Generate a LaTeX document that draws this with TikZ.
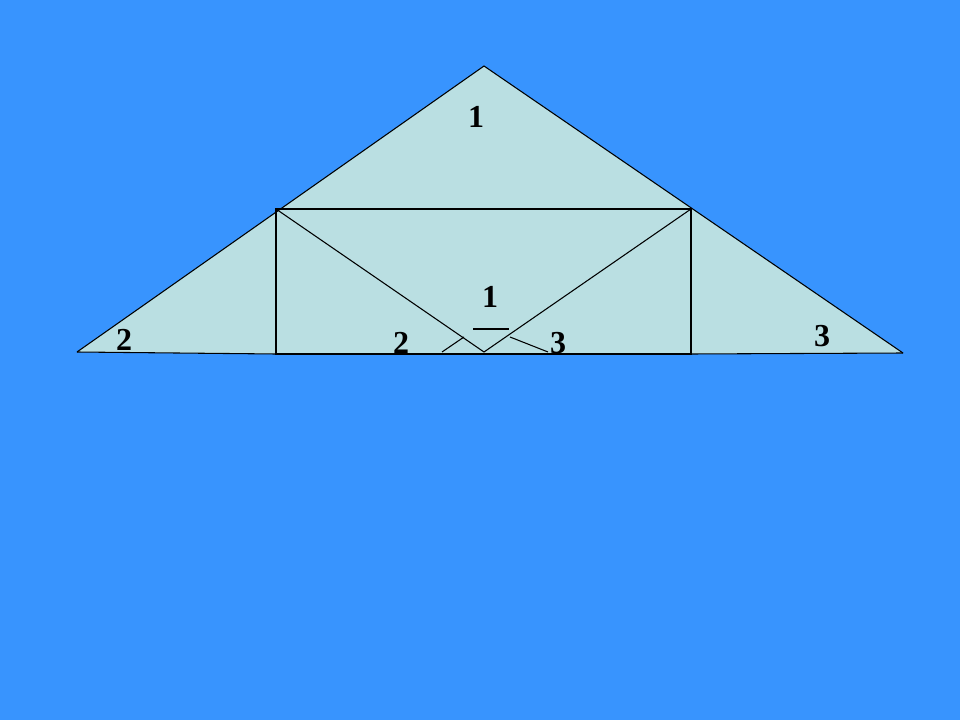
\documentclass[tikz,border=0pt]{standalone}
\usepackage{fontspec}
\setmainfont{Liberation Serif}
\definecolor{bg}{HTML}{3894FE}
\definecolor{fillc}{HTML}{BADFE2}
\begin{document}
\begin{tikzpicture}[x=0.75pt,y=-0.75pt,
  edge/.style={draw=black,line width=0.8pt},
  lbl/.style={font=\fontsize{24}{28}\selectfont\bfseries,inner sep=0pt}]
\fill[bg] (0,0) rectangle (960,720);
\useasboundingbox (0,0) rectangle (960,720);
\coordinate (A) at (484,66);
\coordinate (L) at (77,352);
\coordinate (R) at (903,353);
\coordinate (TL) at (276,209);
\coordinate (TR) at (691,209);
\coordinate (BL) at (276,354);
\coordinate (BR) at (691,354);
\coordinate (M) at (484,352);
\fill[fillc] (A) -- (R) -- (BR) -- (BL) -- (L) -- cycle;
\draw[edge] (L) -- (A) -- (R);
\draw[edge] (L) -- (BL);
\draw[edge] (BR) -- (R);
\draw[edge] (TL) rectangle (BR);
\draw[edge] (TL) -- (M) -- (TR);
\coordinate (s1a) at (442,352);
\coordinate (s1b) at (464,337);
\coordinate (s2a) at (510,337);
\coordinate (s2b) at (548,352);
\coordinate (h1) at (473,329);
\coordinate (h2) at (509,329);
\draw[edge] (s1a) -- (s1b);
\draw[edge] (s2a) -- (s2b);
\draw[edge] (h1) -- (h2);
\node[lbl] (t1) at (476,117) {1};
\node[lbl] (c1) at (490,297) {1};
\node[lbl] (c2) at (401,343) {2};
\node[lbl] (c3) at (558,343) {3};
\node[lbl] (l2) at (124,340) {2};
\node[lbl] (r3) at (822,336) {3};
\end{tikzpicture}
\end{document}
